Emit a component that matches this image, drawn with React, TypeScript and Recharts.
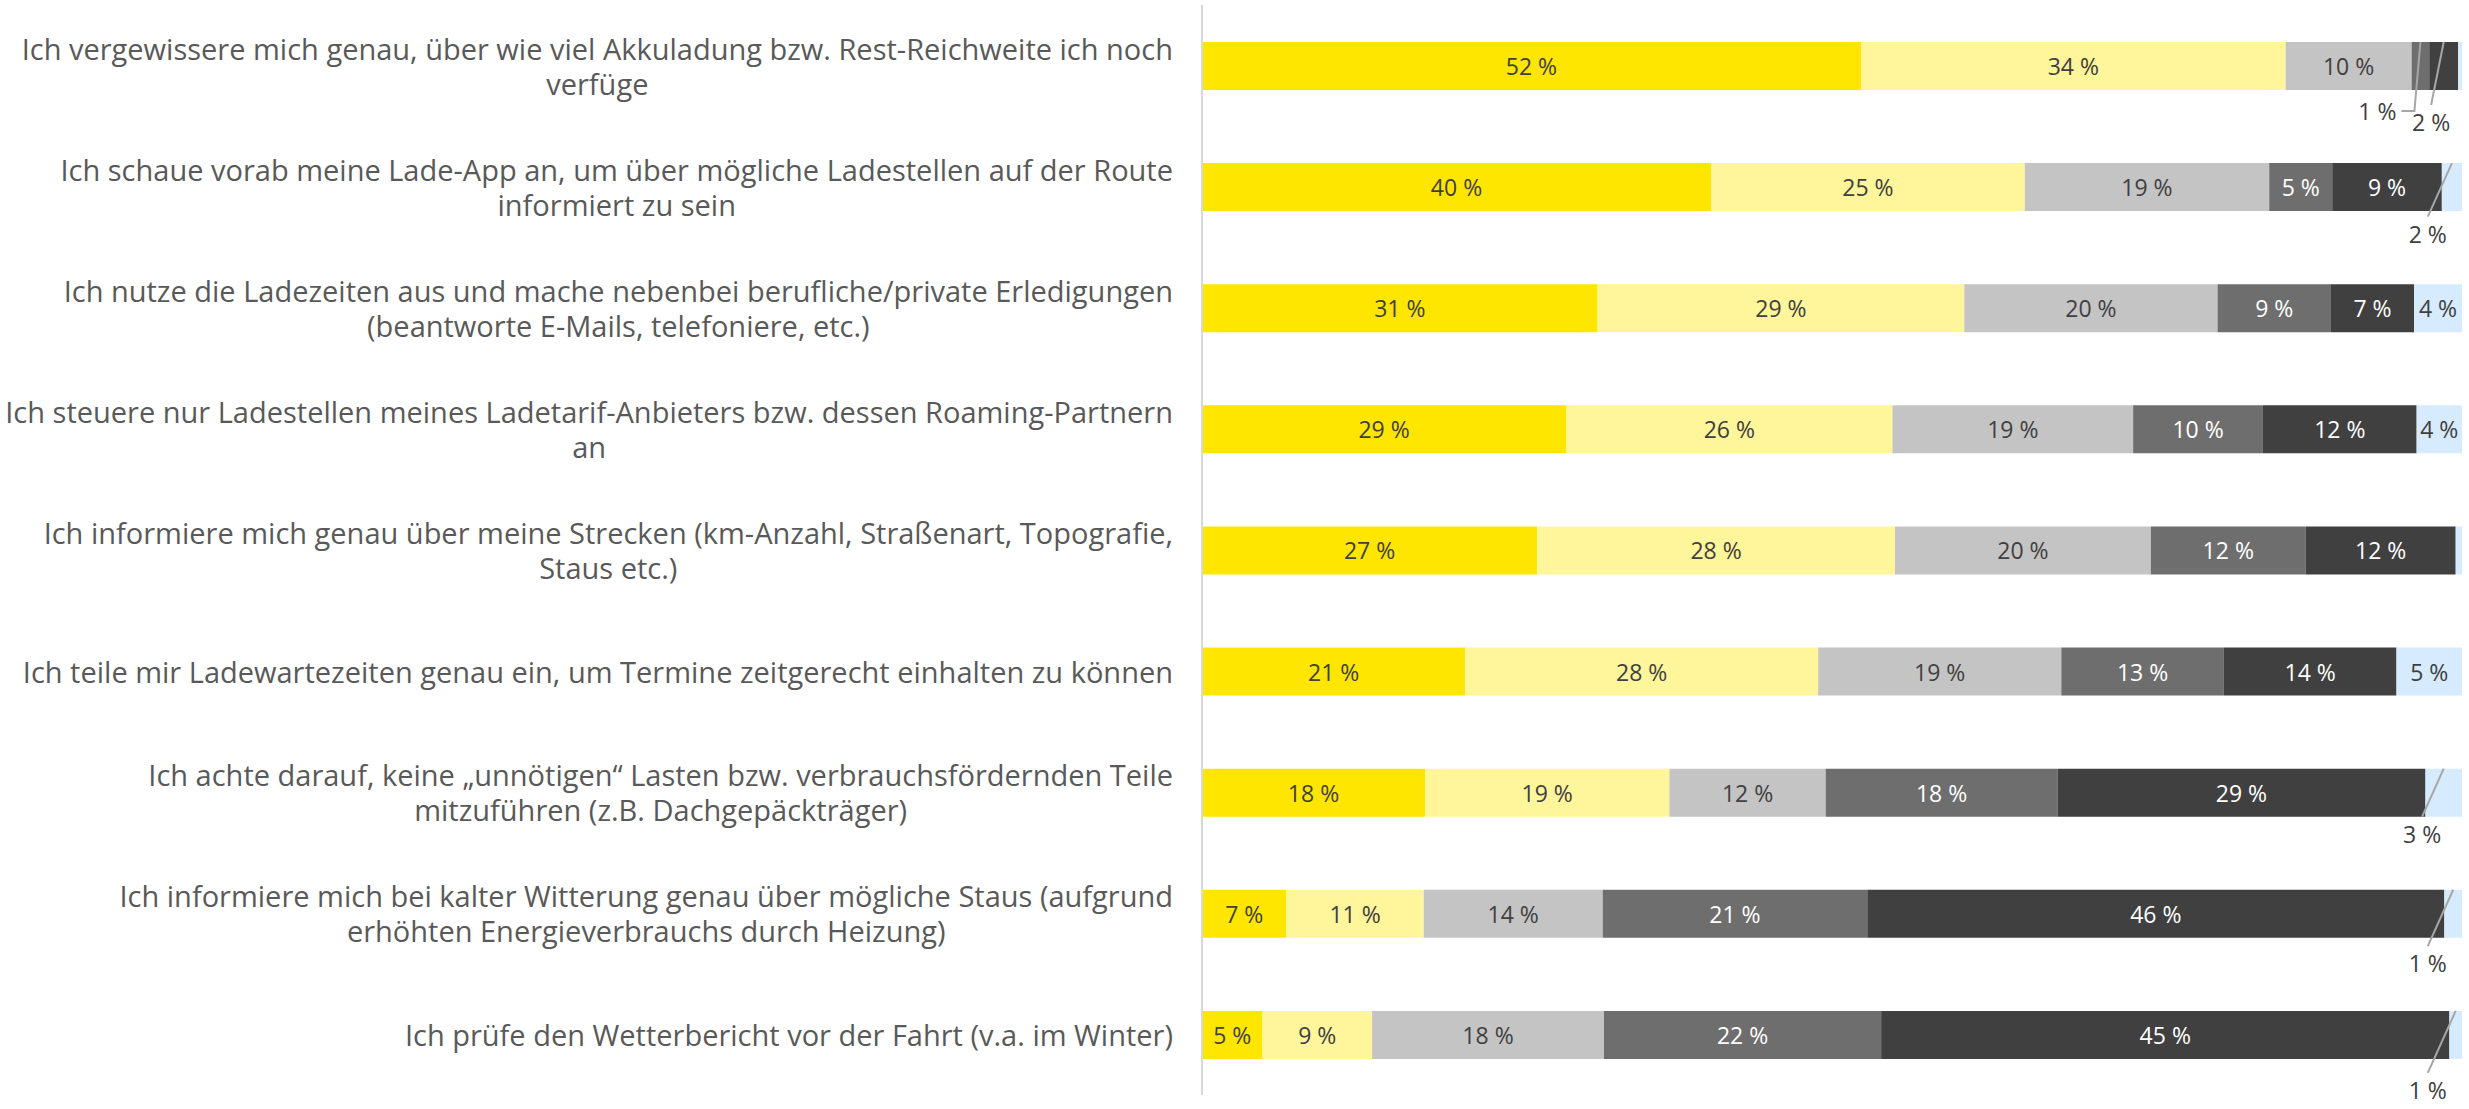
import { Bar, BarChart, LabelList, XAxis, YAxis } from "recharts";

const categories = [
  "Ich vergewissere mich genau, über wie viel Akkuladung bzw. Rest-Reichweite ich noch\nverfüge",
  "Ich schaue vorab meine Lade-App an, um über mögliche Ladestellen auf der Route\ninformiert zu sein",
  "Ich nutze die Ladezeiten aus und mache nebenbei berufliche/private Erledigungen\n(beantworte E-Mails, telefoniere, etc.)",
  "Ich steuere nur Ladestellen meines Ladetarif-Anbieters bzw. dessen Roaming-Partnern\nan",
  "Ich informiere mich genau über meine Strecken (km-Anzahl, Straßenart, Topografie,\nStaus etc.)",
  "Ich teile mir Ladewartezeiten genau ein, um Termine zeitgerecht einhalten zu können",
  "Ich achte darauf, keine „unnötigen“ Lasten bzw. verbrauchsfördernden Teile\nmitzuführen (z.B. Dachgepäckträger)",
  "Ich informiere mich bei kalter Witterung genau über mögliche Staus (aufgrund\nerhöhten Energieverbrauchs durch Heizung)",
  "Ich prüfe den Wetterbericht vor der Fahrt (v.a. im Winter)",
];

// shares in percent
const trifftVollZu = [52.3, 40.4, 31.4, 28.9, 26.6, 20.9, 17.7, 6.7, 4.8];
const trifftEherZu = [33.7, 24.9, 29.1, 25.9, 28.4, 28.0, 19.4, 10.9, 8.7];
const teilsTeils = [10.0, 19.4, 20.1, 19.1, 20.3, 19.3, 12.4, 14.2, 18.4];
const trifftEherNichtZu = [1.4, 5.0, 9.0, 10.3, 12.3, 12.9, 18.4, 21.0, 22.0];
const trifftNichtZu = [2.3, 8.7, 6.6, 12.2, 11.9, 13.7, 29.2, 45.8, 45.1];
const keineAngabe = [0.3, 1.6, 3.8, 3.6, 0.5, 5.2, 2.9, 1.4, 1.0];

const series = [
  { key: "s1", name: "Trifft voll zu", values: trifftVollZu, fill: "#FFE600", text: "#404040" },
  { key: "s2", name: "Trifft eher zu", values: trifftEherZu, fill: "#FFF59B", text: "#404040" },
  { key: "s3", name: "Teils/teils", values: teilsTeils, fill: "#C4C4C4", text: "#404040" },
  { key: "s4", name: "Trifft eher nicht zu", values: trifftEherNichtZu, fill: "#6E6E6E", text: "#FFFFFF" },
  { key: "s5", name: "Trifft nicht zu", values: trifftNichtZu, fill: "#404040", text: "#FFFFFF" },
  { key: "s6", name: "Keine Angabe", values: keineAngabe, fill: "#D6EBFD", text: "#404040" },
];

const rows = categories.map((name, i) => {
  const row: Record<string, any> = { name };
  series.forEach((s) => (row[s.key] = s.values[i]));
  return row;
});

const FONT = "'Open Sans', Roboto, sans-serif";
const CAT_SIZE = 29;
const VAL_SIZE = 23;
const INSIDE_MIN = 40; // px, narrower segments get a leader line
const PX_PER_PCT = 12.6;

let ctx: CanvasRenderingContext2D | null = null;
function textWidth(t: string) {
  if (!ctx) ctx = document.createElement("canvas").getContext("2d");
  if (!ctx) return t.length * CAT_SIZE * 0.5;
  ctx.font = `${CAT_SIZE}px 'Open Sans'`;
  return ctx.measureText(t).width;
}

function CategoryTick(props: any) {
  const { x, y, payload } = props;
  const lines = String(payload.value).split("\n");
  const w = Math.max(...lines.map(textWidth));
  const cx = x - w / 2;
  const lh = 35;
  const y0 = y - ((lines.length - 1) * lh) / 2;
  return (
    <text textAnchor="middle" fill="#595959" fontSize={CAT_SIZE} fontFamily={FONT}>
      {lines.map((l, i) => (
        <tspan key={i} x={cx} y={y0 + i * lh} dominantBaseline="central">
          {l}
        </tspan>
      ))}
    </text>
  );
}

const isOutside = (v: number | undefined) => v !== undefined && v >= 1 && v * PX_PER_PCT < INSIDE_MIN;

function makeLabel(si: number) {
  const s = series[si];
  return (props: any) => {
    const { x, y, width, height, index } = props;
    const v = s.values[index];
    if (v < 1) return null;
    const label = `${Math.round(v)} %`;
    if (width >= INSIDE_MIN) {
      return (
        <text x={x + width / 2} y={y + height / 2} textAnchor="middle" dominantBaseline="central"
          fill={s.text} fontSize={VAL_SIZE} fontFamily={FONT}>
          {label}
        </text>
      );
    }
    const cx = x + width / 2;
    const nextSmall = si + 1 < series.length && isOutside(series[si + 1].values[index]);
    const prevSmall = si > 0 && isOutside(series[si - 1].values[index]);
    if (nextSmall) {
      // crowded: elbow to the left
      const by = y + height + 21;
      const bx = cx - 6;
      return (
        <g>
          <polyline points={`${cx},${y} ${bx},${by} ${bx - 13},${by}`} fill="none" stroke="#A6A6A6" strokeWidth={2} />
          <text x={bx - 18} y={by} textAnchor="end" dominantBaseline="central" fill="#404040" fontSize={VAL_SIZE} fontFamily={FONT}>
            {label}
          </text>
        </g>
      );
    }
    const ext = prevSmall ? 15 : Math.max(0, (2 - v) * 14);
    const by = y + height + ext;
    const bx = cx - (height + ext) * (prevSmall ? 0.2 : 0.45);
    return (
      <g>
        <line x1={cx} y1={y} x2={bx} y2={by} stroke="#A6A6A6" strokeWidth={2} />
        <text x={bx} y={by + 17} textAnchor="middle" dominantBaseline="central" fill="#404040" fontSize={VAL_SIZE} fontFamily={FONT}>
          {label}
        </text>
      </g>
    );
  };
}

export default function App() {
  return (
    <div style={{ position: "absolute", left: 0, top: 0, width: 2469, height: 1109, background: "#fff" }}>
      <BarChart
        width={2469}
        height={1109}
        data={rows}
        layout="vertical"
        margin={{ top: 5, right: 7, bottom: 14, left: 0 }}
      >
        <XAxis type="number" domain={[0, 100]} hide />
        {series.map((s, si) => (
          <Bar key={s.key} dataKey={s.key} name={s.name} stackId="a" fill={s.fill} barSize={48} isAnimationActive={false}>
            <LabelList dataKey={s.key} content={makeLabel(si)} />
          </Bar>
        ))}
        <YAxis
          type="category"
          dataKey="name"
          width={1202}
          interval={0}
          tickLine={false}
          tickSize={0}
          tickMargin={29}
          axisLine={{ stroke: "#D9D9D9", strokeWidth: 2 }}
          tick={<CategoryTick />}
        />
      </BarChart>
    </div>
  );
}
